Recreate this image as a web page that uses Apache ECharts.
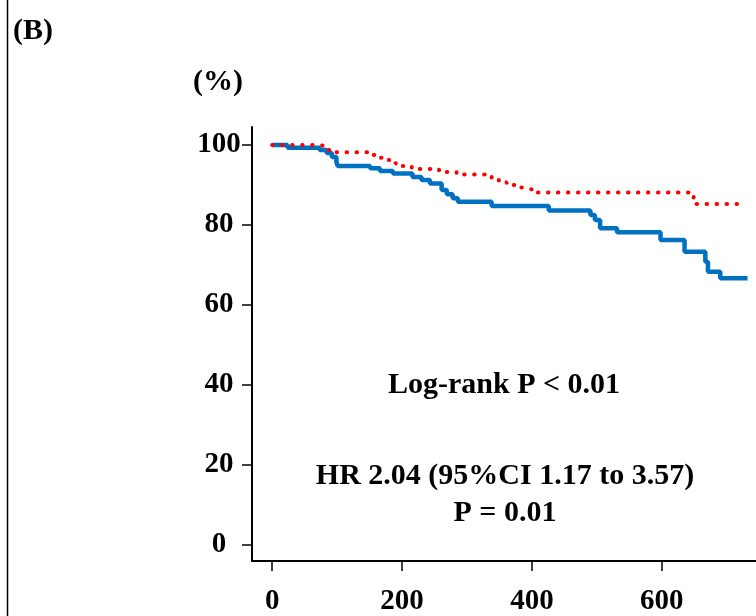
<!DOCTYPE html>
<html>
<head>
<meta charset="utf-8">
<script src="https://cdn.jsdelivr.net/npm/echarts@6/dist/echarts.min.js"></script>
<style>
html,body{margin:0;padding:0;background:#fff;}
#chart{width:756px;height:616px;}
</style>
</head>
<body>
<div id="chart"></div>
<script>
// Kaplan-Meier step data (days, survival %)
const blueDays = [0, 24, 73, 84, 92, 99, 101, 151, 166, 186, 216, 230, 243, 261, 269, 278, 286, 338, 426, 490, 497, 505, 531, 598, 635, 667, 671, 690, 732];
const blueSurv = [100, 99.3, 98.75, 98, 97, 95.75, 94.75, 94.2, 93.5, 92.9, 92, 91.25, 90.4, 88.75, 87.7, 86.7, 85.8, 84.75, 83.6, 82.5, 81.25, 79.2, 78.2, 76.25, 73.3, 70.8, 68.3, 66.7, 66.7];
const redDays = [0, 75, 83, 92, 155, 165, 178, 190, 201, 215, 257, 284, 328, 338, 349, 361, 374, 386, 400, 649, 729];
const redSurv = [100, 99.5, 98.75, 98.2, 97.5, 96.8, 96.25, 95.4, 94.75, 94, 93.25, 92.6, 92, 91.4, 90.7, 90, 89.4, 88.9, 88.1, 85.25, 85.25];
const xTicks = [0, 200, 400, 600];
const yTicks = [0, 20, 40, 60, 80, 100];
const panelLabel = '(B)';
const yUnit = '(%)';
const noteLines = ['Log-rank P < 0.01', 'HR 2.04 (95%CI 1.17 to 3.57)', 'P = 0.01'];

const FONT = '"Liberation Serif", "Times New Roman", serif';
const chart = echarts.init(document.getElementById('chart'), null, {renderer: 'canvas'});
const toPairs = (xs, ys) => xs.map((x, i) => [x, ys[i]]);
const txt = (text, x, y, size) => ({
  type: 'text', x: x, y: y,
  style: {text: text, fill: '#000', font: 'bold ' + size + 'px ' + FONT, textAlign: 'center', textVerticalAlign: 'middle'}
});

chart.setOption({
  animation: false,
  backgroundColor: '#fff',
  grid: {left: 252, right: 0, top: 127, bottom: 55, containLabel: false, outerBoundsMode: 'none'},
  xAxis: {
    type: 'value', min: -31, max: 745,
    axisLine: {onZero: false, lineStyle: {color: '#000', width: 2}},
    axisTick: {show: true, length: 10, lineStyle: {color: '#000', width: 1.5}, customValues: xTicks},
    axisLabel: {customValues: xTicks, color: '#000', fontFamily: FONT, fontWeight: 'bold', fontSize: 29, margin: 26},
    splitLine: {show: false}
  },
  yAxis: {
    type: 'value', min: -4, max: 104.5,
    axisLine: {onZero: false, lineStyle: {color: '#000', width: 2}},
    axisTick: {show: true, length: 10, lineStyle: {color: '#000', width: 1.5}, customValues: yTicks},
    axisLabel: {customValues: yTicks, color: '#000', fontFamily: FONT, fontWeight: 'bold', fontSize: 29, margin: 33, align: 'center'},
    splitLine: {show: false}
  },
  series: [
    {
      type: 'line', step: 'end', symbol: 'none', z: 3,
      data: toPairs(redDays, redSurv),
      lineStyle: {color: '#ff0000', width: 4, type: [0.5, 9.5], cap: 'round'}
    },
    {
      type: 'line', step: 'end', symbol: 'none', z: 2,
      data: toPairs(blueDays, blueSurv),
      lineStyle: {color: '#0070c0', width: 4.5}
    }
  ],
  graphic: [
    {type: 'line', shape: {x1: 7.5, y1: 0, x2: 7.5, y2: 616}, style: {stroke: '#000', lineWidth: 1.5}},
    txt(panelLabel, 33, 31, 30),
    txt(yUnit, 218, 82, 30),
    txt(noteLines[0], 504, 385, 30),
    txt(noteLines[1], 505, 476, 30),
    txt(noteLines[2], 505, 513, 30)
  ]
});
</script>
</body>
</html>
